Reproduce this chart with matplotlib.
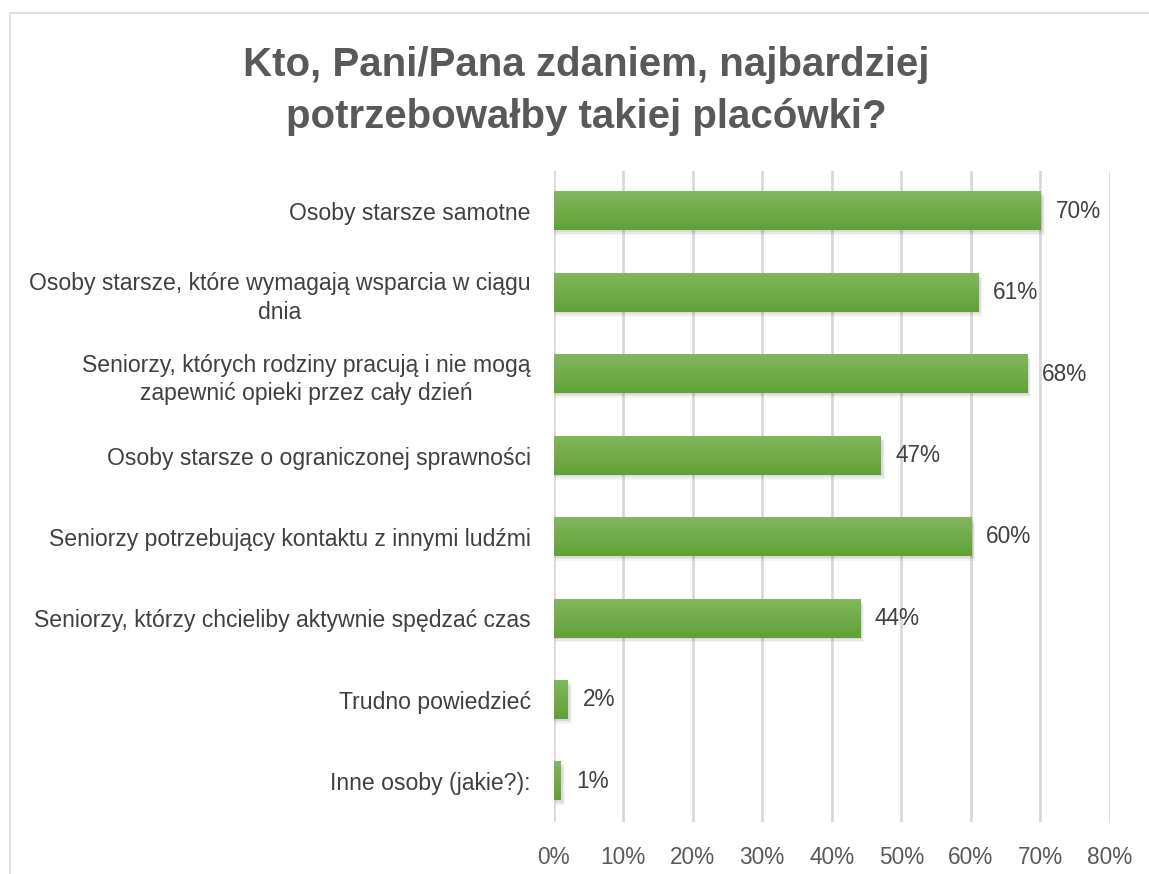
import numpy as np
import matplotlib
matplotlib.use('Agg')
from matplotlib import pyplot as plt
from matplotlib.patches import Rectangle

#---------------------------------------------------
#----------Data-------------------------------------
categories = [
    'Osoby starsze samotne',
    'Osoby starsze, które wymagają wsparcia w ciągu\ndnia',
    'Seniorzy, których rodziny pracują i nie mogą\nzapewnić opieki przez cały dzień',
    'Osoby starsze o ograniczonej sprawności',
    'Seniorzy potrzebujący kontaktu z innymi ludźmi',
    'Seniorzy, którzy chcieliby aktywnie spędzać czas',
    'Trudno powiedzieć',
    'Inne osoby (jakie?):',
]
values = [70, 61, 68, 47, 60, 44, 2, 1]
ticks = [0, 10, 20, 30, 40, 50, 60, 70, 80]
title = 'Kto, Pani/Pana zdaniem, najbardziej\npotrzebowałby takiej placówki?'

#---------------------------------------------------
#----------Figure-----------------------------------
plt.rcParams['font.family'] = ['Liberation Sans', 'DejaVu Sans']
fig = plt.figure(figsize=(11.49, 8.74), dpi=100)
fig.patches.append(Rectangle((10/1149, -0.1), 1.2, 1 - 13/874 + 0.1,
                             transform=fig.transFigure, fill=False,
                             edgecolor='#D9D9D9', linewidth=1.2))
ax = fig.add_axes([553.5/1149, 1 - 822/874, (1110 - 553.5)/1149, (822 - 170.5)/874])

y = np.arange(len(categories))
h = 0.47
grad = np.linspace(0, 1, 64)
top_col = np.array([0.51, 0.72, 0.37])
bot_col = np.array([0.38, 0.63, 0.21])
img = (top_col[None, :] + (bot_col - top_col)[None, :] * grad[:, None])[:, None, :]

for yi, v in zip(y, values):
    # soft shadow
    for k, a in enumerate([0.06, 0.05, 0.04]):
        off = 0.02 + k * 0.02
        ax.add_patch(Rectangle((0.15, yi - h/2 + off), v + 0.25 + k*0.1, h,
                               color='black', alpha=a, lw=0, zorder=2))
    ax.imshow(img, extent=(0, v, yi + h/2, yi - h/2), aspect='auto',
              origin='upper', zorder=3, interpolation='bilinear')
    ax.text(v + 2.2, yi, f'{v}%', va='center', ha='left', fontsize=16.3,
            color='#404040', zorder=4)

ax.set_xlim(0, 80)
ax.set_ylim(len(categories) - 0.5, -0.5)
ax.set_xticks(ticks)
ax.set_xticklabels([f'{t}%' for t in ticks], fontsize=16.3, color='#595959')
ax.set_yticks(y)
ax.set_yticklabels(categories, fontsize=16.6, color='#404040',
                   multialignment='center', linespacing=1.3)
ax.tick_params(axis='both', length=0)
ax.tick_params(axis='x', pad=17)
ax.tick_params(axis='y', pad=16.5)
ax.xaxis.grid(True, color='#D9D9D9', linewidth=2)
ax.set_axisbelow(True)
for s in ax.spines.values():
    s.set_visible(False)

fig.text(586/1149, 1 - 91/874, title, ha='center', va='center',
         fontsize=29, fontweight='bold', color='#595959', linespacing=1.5)

fig.savefig('out.png', dpi=100)
